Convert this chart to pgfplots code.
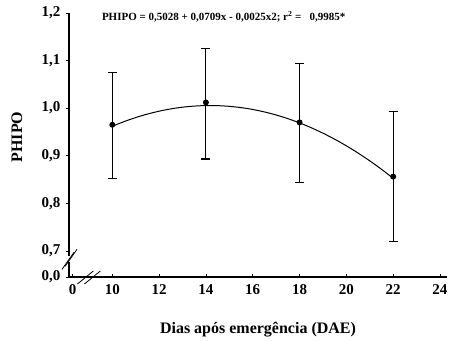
\documentclass[border=0pt]{standalone}
\usepackage{pgfplots}
\pgfplotsset{compat=1.18}
\usepackage{fontspec}
\setmainfont{Liberation Serif}
\begin{document}
\begin{tikzpicture}
\useasboundingbox (-69pt,-65pt) rectangle (380pt,277pt);
\begin{axis}[
  at={(0pt,0pt)}, anchor=south west,
  scale only axis,
  width=378pt, height=264pt,
  xmin=8.15, xmax=24.3,
  ymin=0.645, ymax=1.2,
  axis lines=left,
  axis line style={-, line width=1.4pt},
  xtick={8.3,10,12,14,16,18,20,22,24},
  xticklabels={0,10,12,14,16,18,20,22,24},
  ytick={0.645,0.7,0.8,0.9,1.0,1.1,1.2},
  yticklabels={{0,0},{0,7},{0,8},{0,9},{1,0},{1,1},{1,2}},
  tick label style={font=\fontsize{15}{16}\selectfont\bfseries},
  xticklabel style={yshift=-4pt},
  yticklabel style={xshift=-2pt},
  xtick align=inside, ytick align=outside,
  major tick length=3pt,
  tick style={line width=0.6pt, black},
  xlabel={Dias após emergência (DAE)},
  ylabel={PHIPO},
  label style={font=\fontsize{16}{17}\selectfont\bfseries},
  x label style={at={(axis description cs:0.5,0)}, anchor=center, yshift=-53pt},
  y label style={at={(axis description cs:-0.1376,0.53)}, anchor=center},
  clip=false,
]
\addplot[black, line width=1.0pt, smooth, no marks] coordinates {
(10,0.9618) (10.5,0.9716) (11,0.9802) (11.5,0.9875) (12,0.9936) (12.5,0.9984)
(13,1.0020) (13.5,1.0043) (14,1.0054) (14.5,1.0052) (15,1.0038) (15.5,1.0011)
(16,0.9972) (16.5,0.9920) (17,0.9856) (17.5,0.9779) (18,0.9690) (18.5,0.9588)
(19,0.9474) (19.5,0.9347) (20,0.9208) (20.5,0.9056) (21,0.8892) (21.5,0.8715) (22,0.8526)
};
\addplot[black, only marks, mark=*, mark size=2.4pt, line width=1.1pt,
  error bars/.cd, y dir=both, y explicit,
  error bar style={line width=1.1pt},
  error mark options={rotate=90, mark size=4.5pt, line width=1.1pt}]
coordinates {
(10,0.965) += (0,0.110) -= (0,0.112)
(14,1.012) += (0,0.114) -= (0,0.119)
(18,0.970) += (0,0.124) -= (0,0.1265)
(22,0.856) += (0,0.137) -= (0,0.136)
};
% axis break marks
\fill[white] (axis cs:8.15,0.68) ++(-5pt,-2pt) rectangle ++(10pt,6pt);
\draw[line width=0.8pt] (axis cs:8.15,0.68) ++(-7pt,-9pt) -- ++(12pt,17pt);
\draw[line width=0.8pt] (axis cs:8.15,0.68) ++(-4pt,-6pt) -- ++(12pt,17pt);
\fill[white] (axis cs:8.85,0.645) ++(0,-5pt) rectangle ++(6pt,10pt);
\draw[line width=0.8pt] (axis cs:8.85,0.645) ++(-8pt,-7pt) -- ++(16pt,13pt);
\draw[line width=0.8pt] (axis cs:8.85,0.645) ++(-1pt,-7pt) -- ++(16pt,13pt);
\node[anchor=west, font=\fontsize{11}{12}\selectfont\bfseries] at (axis description cs:0.078,0.985)
  {PHIPO = 0,5028 + 0,0709x - 0,0025x2; r$^{\mathbf{2}}$ =\ \ \ 0,9985*};
\end{axis}
\end{tikzpicture}
\end{document}
